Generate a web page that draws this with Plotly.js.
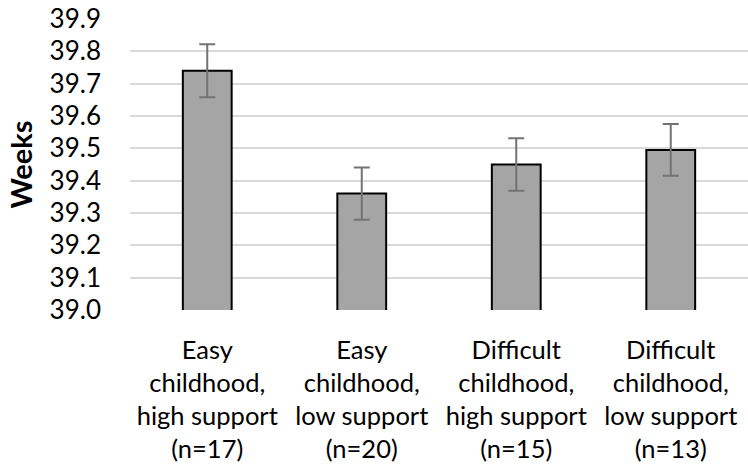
<!DOCTYPE html>
<html>
<head>
<meta charset="utf-8">
<script src="https://cdn.plot.ly/plotly-3.0.1.min.js"></script>
<style>html,body{margin:0;padding:0;background:#fff;}#chart{width:748px;height:476px;}</style>
</head>
<body>
<div id="chart"></div>
<script>
var categories = [
  "Easy<br>childhood,<br>high support<br>(n=17)",
  "Easy<br>childhood,<br>low support<br>(n=20)",
  "Difficult<br>childhood,<br>high support<br>(n=15)",
  "Difficult<br>childhood,<br>low support<br>(n=13)"
];
var meanWeeks = [39.74, 39.36, 39.45, 39.495];
var errorWeeks = [0.082, 0.081, 0.081, 0.08];
var yTickValues = [39.0, 39.1, 39.2, 39.3, 39.4, 39.5, 39.6, 39.7, 39.8, 39.9];
var yTickLabels = ["39.0", "39.1", "39.2", "39.3", "39.4", "39.5", "39.6", "39.7", "39.8", "39.9"];

var trace = {
  type: 'bar',
  x: categories,
  y: meanWeeks,
  width: 0.316,
  marker: {color: '#a5a5a5', line: {color: '#000000', width: 2}},
  error_y: {type: 'data', array: errorWeeks, visible: true, color: '#737373', thickness: 2, width: 8},
  hoverinfo: 'none'
};

var layout = {
  width: 748, height: 476,
  margin: {l: 130, r: 0, t: 19, b: 166},
  paper_bgcolor: '#ffffff', plot_bgcolor: '#ffffff',
  showlegend: false,
  font: {family: 'Lato, "Open Sans", sans-serif', color: '#000000', size: 25},
  xaxis: {
    type: 'category',
    showgrid: false, zeroline: false, showline: false,
    ticks: '', tickangle: 0,
    tickfont: {size: 25.5, color: '#000000'},
    ticklabelstandoff: 22
  },
  yaxis: {
    range: [39.0, 39.9],
    tickvals: yTickValues, ticktext: yTickLabels,
    showgrid: true, gridcolor: '#d9d9d9', gridwidth: 2,
    zeroline: false, showline: false, ticks: '',
    tickfont: {size: 26, color: '#000000'},
    ticklabelstandoff: 28,
    title: {text: '<b>Weeks</b>', font: {size: 29, color: '#000000'}, standoff: 8}
  }
};

Plotly.newPlot('chart', [trace], layout, {displayModeBar: false, staticPlot: true});
</script>
</body>
</html>
